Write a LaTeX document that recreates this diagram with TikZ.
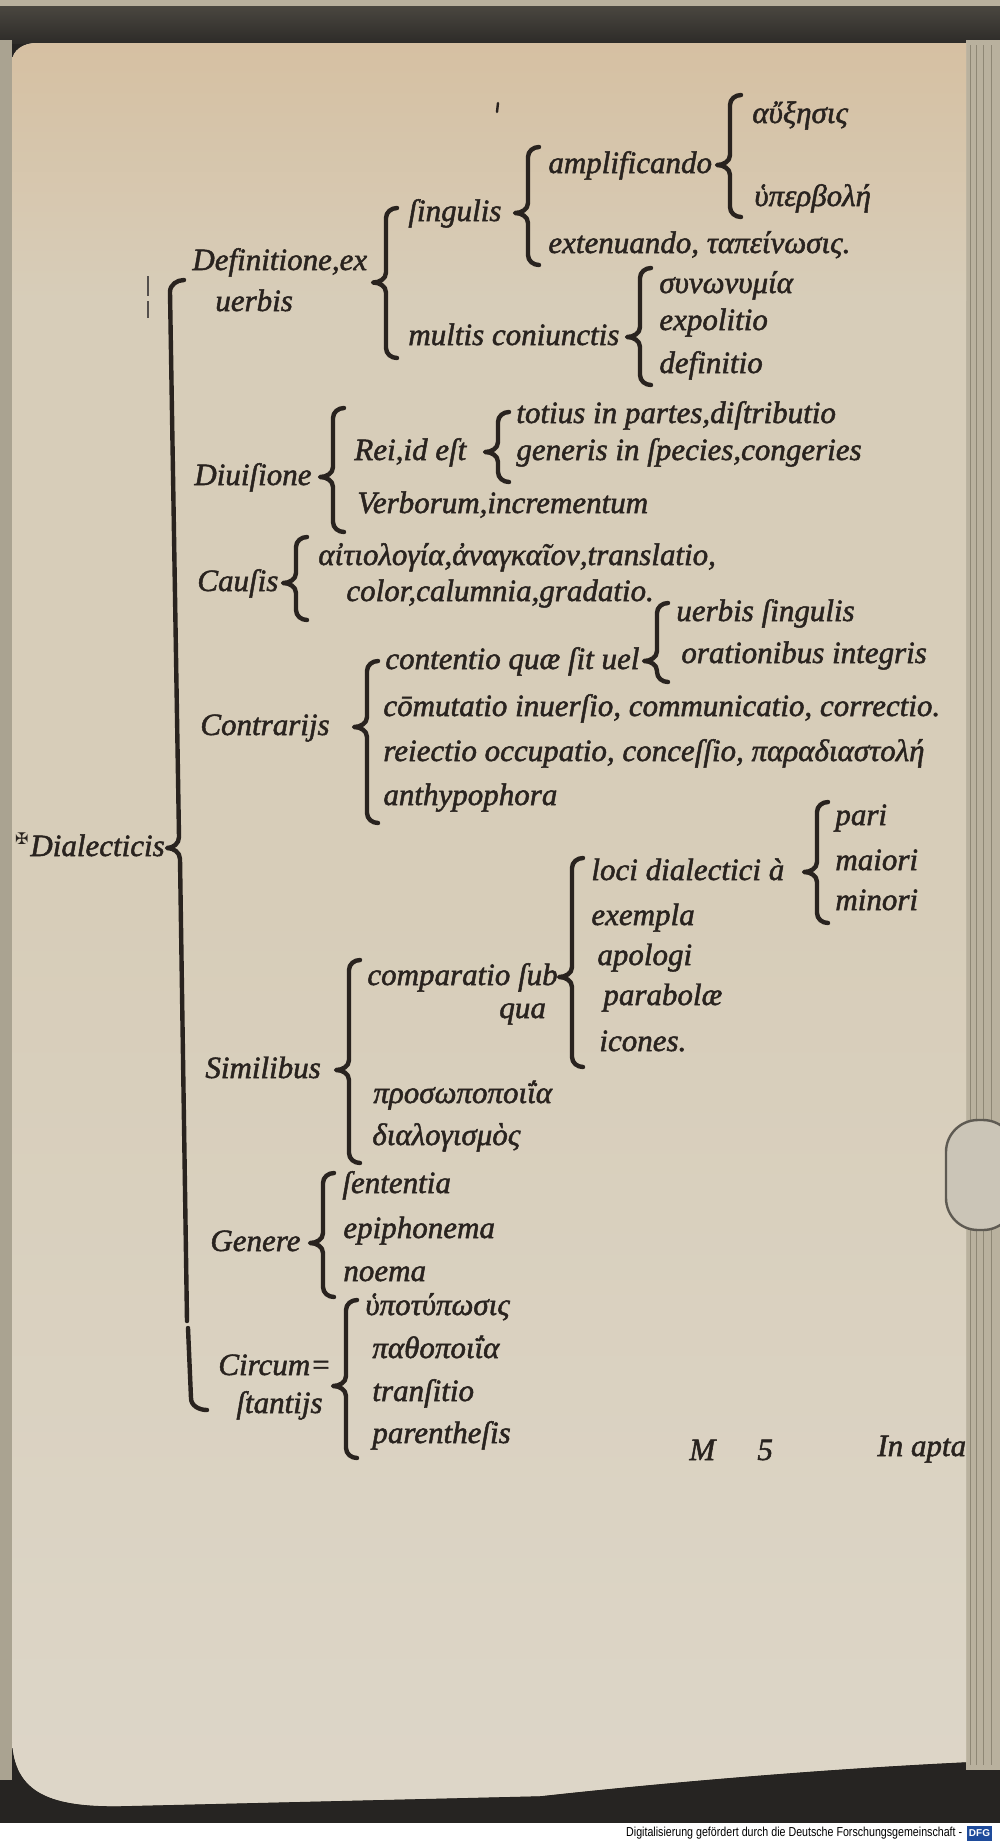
\documentclass[tikz,border=0pt]{standalone}
\usepackage{fontspec}
\setmainfont{Liberation Serif}[ItalicFeatures={FakeBold=1.6}]
\newfontfamily\creditfont{Liberation Sans}
\newfontfamily\markfont{DejaVu Sans}
\usetikzlibrary{calc}
\definecolor{ink}{HTML}{29231F}
\definecolor{paper}{HTML}{D7CDB9}
\definecolor{paperlow}{HTML}{DDD6C8}
\definecolor{stain}{HTML}{D6C0A2}
\definecolor{scandark}{HTML}{262422}
\definecolor{bandtop}{HTML}{4A4740}
\definecolor{stack}{HTML}{B9B19E}
\definecolor{stackline}{HTML}{8E8775}
\definecolor{clipgray}{HTML}{CBC5B7}
\definecolor{clipline}{HTML}{5E5A52}
\definecolor{dfgblue}{HTML}{1E4B9B}
\tikzset{
	mytext/.style={anchor=west, inner sep=0pt, text=ink, font=\itshape\fontsize{15.5}{18}\selectfont,
				text height=11pt, text depth=3pt
				},
	mybrace/.style={draw=ink, line width=2.2pt, line cap=round, line join=round
				},
	mytick/.style={draw=ink!80, line width=0.9pt
				},
	mycredit/.style={anchor=east, inner sep=0pt, text=black, font=\creditfont\fontsize{6.5}{7}\selectfont
				},
	mylogo/.style={fill=dfgblue, text=white, inner sep=0pt, minimum width=12.5pt, minimum height=7.5pt,
				font=\creditfont\bfseries\fontsize{5}{5}\selectfont
				}
	}
% brace: gap left of first child, first child, parent, last child, top and bottom offsets
\newcommand\brc[6]{%
	\path ($(#2.west)+(-#1,#5)$) coordinate (bt)
		(bt |- #3) coordinate (bm)
		($(bt |- #4)+(0,#6)$) coordinate (bb);
	\draw[mybrace] ($(bt)+(11,0)$) to[out=180,in=90] ($(bt)+(0,10)$) -- ($(bm)+(0,-10)$)
		to[out=-90,in=0] ($(bm)+(-13,0)$) to[out=0,in=90] ($(bm)+(0,10)$)
		-- ($(bb)+(0,-10)$) to[out=-90,in=180] ($(bb)+(11,0)$);
}

\begin{document}
\begin{tikzpicture}[x=0.5pt, y=-0.5pt]

				\useasboundingbox (0,0) rectangle (1000,1843);

				% scan surroundings
				\fill[scandark] (0,0) rectangle (1000,1823);
				\fill[white] (0,1823) rectangle (1000,1843);
				\fill[stack] (0,0) rectangle (1000,6);
				\shade[top color=bandtop, bottom color=scandark!80!bandtop] (0,6) rectangle (1000,43);
				\fill[stack] (966,40) rectangle (1000,1770);
				\foreach \x in {970,976,983,991} \draw[stackline, line width=0.5pt] (\x,45) -- (\x,1765);
				\fill[stack!92!black] (0,40) rectangle (12,1780);

				% page
				\begin{scope}
				\clip (12,62) to[out=90,in=180] (36,43) -- (966,43) -- (966,1762)
					.. controls (800,1770) and (640,1785) .. (540,1796) -- (120,1806)
					.. controls (45,1807) and (12,1790) .. (12,1735) -- cycle;
				\fill[paper] (0,0) rectangle (1000,1843);
				\shade[top color=stain, bottom color=paper] (0,43) rectangle (1000,300);
				\shade[top color=paper, bottom color=paperlow] (0,900) rectangle (1000,1810);
				\end{scope}

				\draw[fill=clipgray, draw=clipline, line width=1.2pt, rounded corners=16] (946,1120) rectangle (1015,1230);

				% marks
				\draw[mytick] (148,276) -- (148,296) (148,301) -- (148,318);
				\draw[ink, line width=1.2pt, line cap=round] (498,103) -- (497,112);

				\node[mytext] (dialecticis) at (30,848) {Dialecticis};
				\node[anchor=east, inner sep=0pt, text=ink, font=\markfont\fontsize{8}{8}\selectfont] (dmark) at ($(dialecticis.west)+(-1,-9)$) {✠};

				\node[mytext] (definitione) at ($(dialecticis.west) + (162,-586)$) {Definitione,ex};
				\node[mytext] (uerbis) at ($(definitione.west) + (23,41)$) {uerbis};
				\coordinate (defmid) at ($(definitione)!0.5!(uerbis)$);
				\node[mytext] (singulis) at ($(definitione.west) + (216,-49)$) {ſingulis};
				\node[mytext] (amplificando) at ($(singulis.west) + (140,-48)$) {amplificando};
				\node[mytext] (auxesis) at ($(amplificando.west) + (204,-50)$) {αὔξησις};
				\node[mytext] (hyperbole) at ($(amplificando.west) + (206,33)$) {ὑπερβολή};
				\node[mytext] (extenuando) at ($(singulis.west) + (140,32)$) {extenuando, ταπείνωσις.};
				\node[mytext] (multis) at ($(singulis.west) + (0,124)$) {multis coniunctis};
				\node[mytext] (synonymia) at ($(multis.west) + (251,-52)$) {συνωνυμία};
				\node[mytext] (expolitio) at ($(synonymia.west) + (0,37)$) {expolitio};
				\node[mytext] (definitio) at ($(expolitio.west) + (0,43)$) {definitio};

				\node[mytext] (diuisione) at ($(dialecticis.west) + (164,-371)$) {Diuiſione};
				\node[mytext] (rei) at ($(diuisione.west) + (160,-25)$) {Rei,id eſt};
				\node[mytext] (totius) at ($(rei.west) + (162,-37)$) {totius in partes,diſtributio};
				\node[mytext] (generis) at ($(totius.west) + (0,37)$) {generis in ſpecies,congeries};
				\node[mytext] (verborum) at ($(rei.west) + (3,53)$) {Verborum,incrementum};

				\node[mytext] (causis) at ($(dialecticis.west) + (167,-265)$) {Cauſis};
				\node[mytext] (aitiologia) at ($(causis.west) + (121,-26)$) {αἰτιολογία,ἀναγκαῖον,translatio,};
				\node[mytext] (color) at ($(aitiologia.west) + (28,36)$) {color,calumnia,gradatio.};

				\node[mytext] (contrarijs) at ($(dialecticis.west) + (170,-121)$) {Contrarijs};
				\node[mytext] (contentio) at ($(contrarijs.west) + (185,-66)$) {contentio quæ ſit uel};
				\node[mytext] (uerbsing) at ($(contentio.west) + (291,-48)$) {uerbis ſingulis};
				\node[mytext] (orationibus) at ($(uerbsing.west) + (5,42)$) {orationibus integris};
				\node[mytext] (comutatio) at ($(contrarijs.west) + (183,-19)$) {cōmutatio inuerſio, communicatio, correctio.};
				\node[mytext] (reiectio) at ($(comutatio.west) + (0,45)$) {reiectio occupatio, conceſſio, παραδιαστολή};
				\node[mytext] (anthypophora) at ($(reiectio.west) + (0,44)$) {anthypophora};

				\node[mytext] (similibus) at ($(dialecticis.west) + (175,222)$) {Similibus};
				\node[mytext] (comparatio) at ($(similibus.west) + (162,-93)$) {comparatio ſub};
				\node[mytext] (qua) at ($(comparatio.west) + (132,33)$) {qua};
				\node[mytext] (loci) at ($(comparatio.west) + (224,-105)$) {loci dialectici à};
				\node[mytext] (pari) at ($(loci.west) + (244,-55)$) {pari};
				\node[mytext] (maiori) at ($(pari.west) + (0,45)$) {maiori};
				\node[mytext] (minori) at ($(maiori.west) + (0,40)$) {minori};
				\node[mytext] (exempla) at ($(loci.west) + (0,45)$) {exempla};
				\node[mytext] (apologi) at ($(exempla.west) + (6,40)$) {apologi};
				\node[mytext] (parabolae) at ($(apologi.west) + (6,40)$) {parabolæ};
				\node[mytext] (icones) at ($(parabolae.west) + (-4,46)$) {icones.};
				\node[mytext] (prosopopoiia) at ($(similibus.west) + (168,25)$) {προσωποποιΐα};
				\node[mytext] (dialogismos) at ($(prosopopoiia.west) + (-1,42)$) {διαλογισμὸς};

				\node[mytext] (genere) at ($(dialecticis.west) + (180,395)$) {Genere};
				\node[mytext] (sententia) at ($(genere.west) + (132,-58)$) {ſententia};
				\node[mytext] (epiphonema) at ($(sententia.west) + (1,45)$) {epiphonema};
				\node[mytext] (noema) at ($(epiphonema.west) + (0,43)$) {noema};

				\node[mytext] (circum) at ($(dialecticis.west) + (188,519)$) {Circum=};
				\node[mytext] (stantijs) at ($(circum.west) + (18,38)$) {ſtantijs};
				\coordinate (circmid) at ($(circum)!0.5!(stantijs)$);
				\node[mytext] (hypotyposis) at ($(circum.west) + (147,-60)$) {ὑποτύπωσις};
				\node[mytext] (pathopoiia) at ($(hypotyposis.west) + (7,43)$) {παθοποιΐα};
				\node[mytext] (transitio) at ($(pathopoiia.west) + (0,43)$) {tranſitio};
				\node[mytext] (parenthesis) at ($(transitio.west) + (0,42)$) {parentheſis};

				\node[mytext] (signature) at (689,1452) {M};
				\node[mytext] (signum) at ($(signature.west) + (68,0)$) {5};
				\node[mytext] (catchword) at (877,1448) {In apta};

				\node[mylogo] (dfglogo) at (979.5,1833.5) {DFG};
				\node[mycredit] (credit) at ($(dfglogo.west) + (-4,0)$)
				{\scalebox{0.82}[1]{Digitalisierung gefördert durch die Deutsche Forschungsgemeinschaft -}};

				% main brace
				\coordinate (mtop) at (170,280);
				\coordinate (mmid) at (179,0 |- dialecticis);
				\coordinate (mbreak) at (187,1321);
				\coordinate (mbot) at (191,1410);
				\draw[mybrace] ($(mtop)+(14,0)$) to[out=180,in=90] ($(mtop)+(0,12)$) -- ($(mmid)+(0,-11)$)
					to[out=-90,in=0] ($(mmid)+(-12,0)$) to[out=0,in=90] ($(mmid)+(1,11)$) -- (mbreak);
				\draw[mybrace] ($(mbreak)+(1,7)$) -- ($(mbot)+(0,-12)$) to[out=-90,in=180] ($(mbot)+(16,0)$);

				\brc{22}{auxesis}{amplificando}{hyperbole}{-20}{19}
				\brc{20}{amplificando}{singulis}{extenuando}{-18}{20}
				\brc{22}{singulis}{defmid}{multis}{-5}{21}
				\brc{19}{synonymia}{multis}{definitio}{-17}{20}
				\brc{21}{rei}{diuisione}{verborum}{-44}{27}
				\brc{18}{totius}{rei}{generis}{-3}{30}
				\brc{22}{aitiologia}{causis}{color}{-20}{27}
				\brc{19}{uerbsing}{contentio}{orationibus}{-10}{27}
				\brc{18}{contentio}{contrarijs}{anthypophora}{0}{26}
				\brc{18}{pari}{loci}{minori}{-15}{21}
				\brc{19}{loci}{comparatio}{icones}{-14}{24}
				\brc{18}{comparatio}{similibus}{dialogismos}{-17}{26}
				\brc{19}{sententia}{genere}{noema}{-12}{24}
				\brc{19}{hypotyposis}{circmid}{parenthesis}{-7}{23}

\end{tikzpicture}
\end{document}
